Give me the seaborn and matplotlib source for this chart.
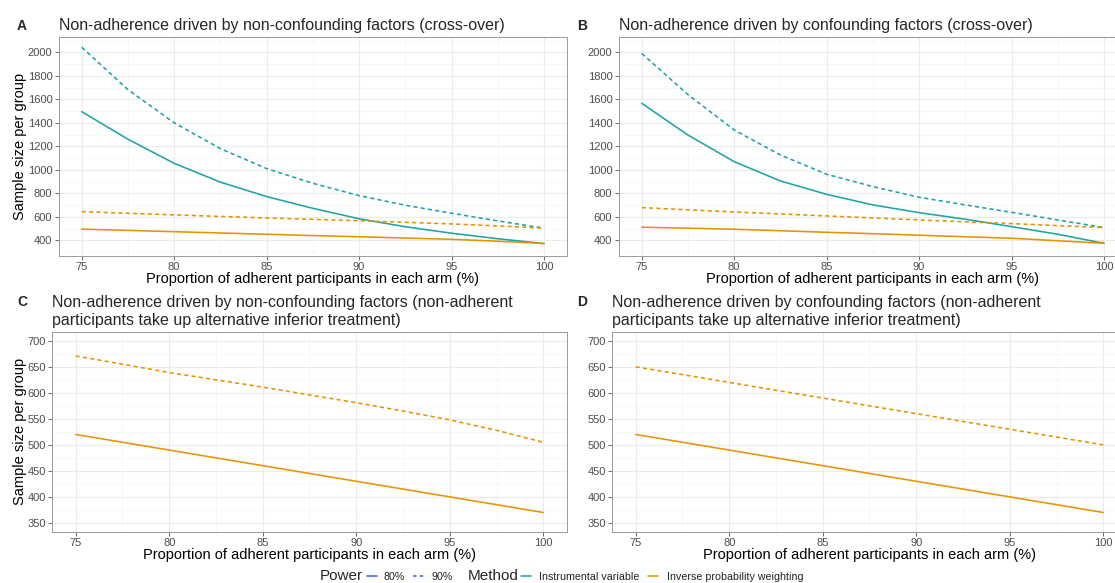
import numpy as np
import pandas as pd
import matplotlib
matplotlib.use("Agg")
import matplotlib.pyplot as plt
import seaborn as sns
from matplotlib.lines import Line2D
from matplotlib.ticker import MultipleLocator

# ---------------- data ----------------
adherence = [75, 77.5, 80, 82.5, 85, 87.5, 90, 92.5, 95, 97.5, 100]

# Panel A: non-confounding, cross-over
a_iv_80 = [1495, 1260, 1055, 895, 772, 672, 583, 515, 460, 413, 372]
a_iv_90 = [2043, 1682, 1400, 1180, 1010, 885, 780, 698, 630, 565, 503]
a_ipw_80 = [495, 484, 473, 462, 451, 440, 430, 419, 408, 392, 372]
a_ipw_90 = [644, 630, 616, 603, 590, 578, 566, 553, 539, 522, 503]

# Panel B: confounding, cross-over
b_iv_80 = [1566, 1296, 1069, 905, 791, 701, 635, 579, 516, 451, 374]
b_iv_90 = [1991, 1640, 1339, 1126, 962, 857, 766, 701, 638, 573, 508]
b_ipw_80 = [511, 503, 494, 481, 468, 456, 443, 430, 417, 396, 374]
b_ipw_90 = [678, 659, 641, 624, 607, 590, 573, 557, 542, 525, 508]

# Panel C: non-confounding, alternative inferior treatment
c_ipw_80 = [520, 505, 490, 475, 460, 445, 430, 415, 400, 385, 370]
c_ipw_90 = [671, 655, 639, 625, 611, 596, 581, 565, 548, 528, 505]

# Panel D: confounding, alternative inferior treatment
d_ipw_80 = [520, 505, 490, 475, 460, 445, 430, 415, 400, 385, 370]
d_ipw_90 = [650, 635, 620, 605, 590, 575, 560, 545, 530, 515, 500]

methods = ["Instrumental variable", "Inverse probability weighting"]
powers = ["80%", "90%"]

panel_titles = {
    "A": "Non-adherence driven by non-confounding factors (cross-over)",
    "B": "Non-adherence driven by confounding factors (cross-over)",
    "C": "Non-adherence driven by non-confounding factors (non-adherent\nparticipants take up alternative inferior treatment)",
    "D": "Non-adherence driven by confounding factors (non-adherent\nparticipants take up alternative inferior treatment)",
}
x_label = "Proportion of adherent participants in each arm (%)"
y_label = "Sample size per group"


def long_df(series):
    rows = []
    for (method, power), vals in series.items():
        for x, v in zip(adherence, vals):
            rows.append({"adherence": x, "n": v, "Method": method, "Power": power})
    return pd.DataFrame(rows)


panel_data = {
    "A": long_df({(methods[0], "80%"): a_iv_80, (methods[0], "90%"): a_iv_90,
                  (methods[1], "80%"): a_ipw_80, (methods[1], "90%"): a_ipw_90}),
    "B": long_df({(methods[0], "80%"): b_iv_80, (methods[0], "90%"): b_iv_90,
                  (methods[1], "80%"): b_ipw_80, (methods[1], "90%"): b_ipw_90}),
    "C": long_df({(methods[1], "80%"): c_ipw_80, (methods[1], "90%"): c_ipw_90}),
    "D": long_df({(methods[1], "80%"): d_ipw_80, (methods[1], "90%"): d_ipw_90}),
}

# ---------------- style ----------------
sns.set_theme(style="white")
plt.rcParams["font.family"] = ["Liberation Sans", "DejaVu Sans"]

TEAL = "#1FA3A6"
ORANGE = "#E69400"
BLUE = "#3366FF"
LW = 1.15
DASH = (2.6, 2.0)
palette = {methods[0]: TEAL, methods[1]: ORANGE}
dashes = {"80%": "", "90%": DASH}

TITLE_FS = 11.5
LABEL_FS = 10.5
TICK_FS = 8.0

W, H = 1115, 583
fig = plt.figure(figsize=(W / 100, H / 100), dpi=100)


def add_ax(l, r, t, b):
    return fig.add_axes([l / W, 1 - b / H, (r - l) / W, (b - t) / H])


def fx(px):
    return px / W


def fy(py):
    return 1 - py / H


axes_px = {
    "A": (58.6, 567.1, 36.7, 256.0),
    "B": (618.6, 1127.1, 36.7, 256.0),
    "C": (52.3, 566.7, 331.7, 532.0),
    "D": (612.3, 1126.7, 331.7, 532.0),
}
ylims = {"A": (266, 2133), "B": (266, 2133), "C": (332.5, 717.5), "D": (332.5, 717.5)}
ymaj = {"A": 200, "B": 200, "C": 50, "D": 50}

for key, (l, r, t, b) in axes_px.items():
    ax = add_ax(l, r, t, b)
    sns.lineplot(data=panel_data[key], x="adherence", y="n", hue="Method",
                 style="Power", palette=palette, dashes=dashes, linewidth=LW,
                 legend=False, ax=ax)
    ax.set_xlim(73.75, 101.25)
    ax.set_ylim(*ylims[key])
    ax.xaxis.set_major_locator(MultipleLocator(5))
    ax.xaxis.set_minor_locator(MultipleLocator(2.5))
    ax.yaxis.set_major_locator(MultipleLocator(ymaj[key]))
    ax.yaxis.set_minor_locator(MultipleLocator(ymaj[key] / 2))
    ax.grid(which="major", color="#EBEBEB", linewidth=0.8)
    ax.grid(which="minor", color="#F4F4F4", linewidth=0.5)
    ax.set_axisbelow(True)
    for sp in ax.spines.values():
        sp.set_color("#9A9A9A")
        sp.set_linewidth(0.7)
    ax.tick_params(which="major", length=3.0, width=0.6, color="#555555",
                   labelsize=TICK_FS, labelcolor="#4D4D4D", pad=1.5,
                   bottom=True, left=True)
    ax.tick_params(which="minor", length=0)
    ax.set_xlabel(x_label, fontsize=LABEL_FS, color="black")
    if key in ("A", "C"):
        ax.set_ylabel(y_label, fontsize=LABEL_FS, color="black")
        ax.yaxis.set_label_coords(-(l - 20) / (r - l), 0.5)
        ax.yaxis.label.set_va("center")
    else:
        ax.set_ylabel("")
    top_row = key in ("A", "B")
    cy = b + 23.0
    ax.xaxis.set_label_coords(0.5, -(cy - b) / (b - t))
    ax.xaxis.label.set_va("center")

    # titles and panel letters
    if top_row:
        fig.text(fx(l), fy(30), panel_titles[key], fontsize=TITLE_FS,
                 ha="left", va="baseline")
        fig.text(fx(17 if key == "A" else 577), fy(30), key,
                 fontsize=10, fontweight="bold", ha="left", va="baseline")
    else:
        line1, line2 = panel_titles[key].split("\n")
        fig.text(fx(l), fy(306.7), line1, fontsize=TITLE_FS, ha="left", va="baseline")
        fig.text(fx(l), fy(325.5), line2, fontsize=TITLE_FS, ha="left", va="baseline")
        fig.text(fx(17 if key == "C" else 577), fy(306), key,
                 fontsize=10, fontweight="bold", ha="left", va="baseline")

# ---------------- legend (bottom, drawn as figure artists) ----------------
LEG_Y = 575.5
LEG_BASE = 580


def key_line(x0, x1, color, dashed=False):
    ln = Line2D([fx(x0), fx(x1)], [fy(LEG_Y), fy(LEG_Y)], color=color, lw=LW,
                transform=fig.transFigure)
    if dashed:
        ln.set_dashes((2.2, 2.0))
    fig.add_artist(ln)


fig.text(fx(320), fy(LEG_BASE), "Power", fontsize=11, ha="left", va="baseline")
key_line(367, 377, BLUE)
fig.text(fx(384), fy(LEG_BASE), powers[0], fontsize=7.7, color="#222222",
         ha="left", va="baseline")
key_line(413, 424, BLUE, dashed=True)
fig.text(fx(431), fy(LEG_BASE), powers[1], fontsize=7.7, color="#222222",
         ha="left", va="baseline")
fig.text(fx(468), fy(LEG_BASE), "Method", fontsize=11, ha="left", va="baseline")
key_line(521, 531, TEAL)
fig.text(fx(539), fy(LEG_BASE), methods[0], fontsize=7.7, color="#222222",
         ha="left", va="baseline")
key_line(648, 658, ORANGE)
fig.text(fx(667), fy(LEG_BASE), methods[1], fontsize=7.7, color="#222222",
         ha="left", va="baseline")

fig.savefig("out.png", dpi=100)
